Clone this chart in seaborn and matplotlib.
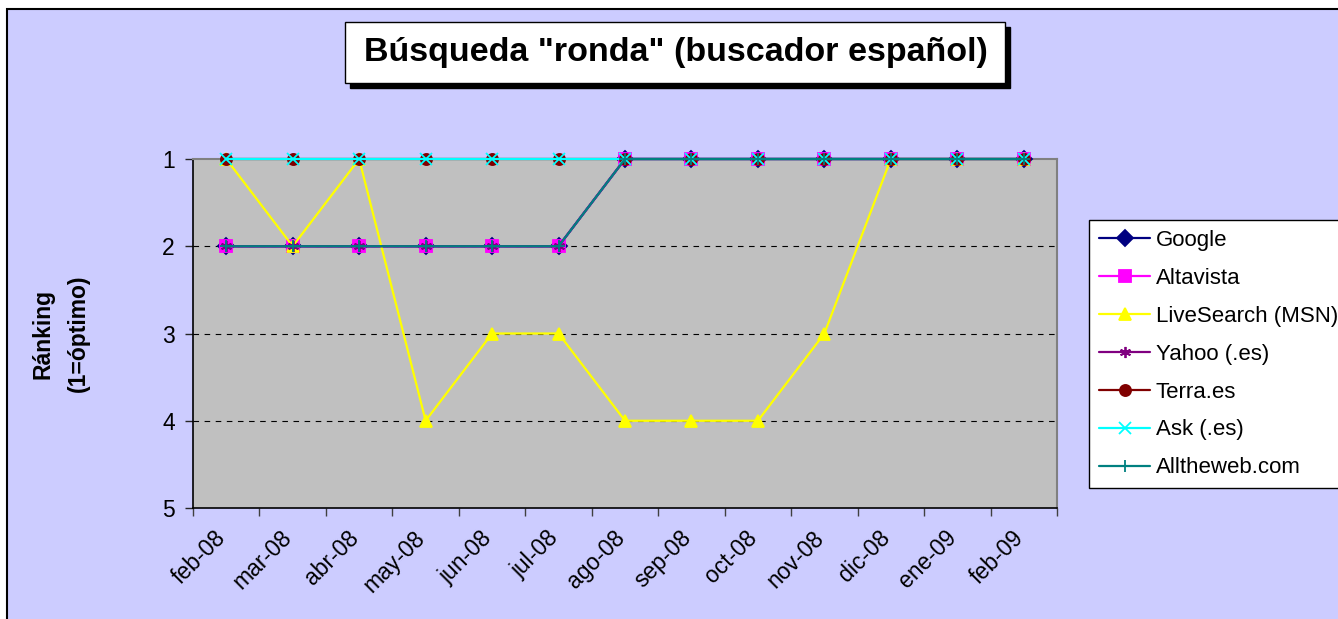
import matplotlib
matplotlib.use("Agg")
import numpy as np
import pandas as pd
import matplotlib.pyplot as plt
from matplotlib.patches import Rectangle
from matplotlib.colors import to_hex
from matplotlib.transforms import ScaledTranslation
import seaborn as sns

# Meses del eje x
meses = ["feb-08", "mar-08", "abr-08", "may-08", "jun-08", "jul-08", "ago-08",
         "sep-08", "oct-08", "nov-08", "dic-08", "ene-09", "feb-09"]

buscadores = ["Google", "Altavista", "LiveSearch (MSN)", "Yahoo (.es)",
              "Terra.es", "Ask (.es)", "Alltheweb.com"]

# Posicion en el ranking (1 = optimo)
google = [2, 2, 2, 2, 2, 2, 1, 1, 1, 1, 1, 1, 1]
altavista = [2, 2, 2, 2, 2, 2, 1, 1, 1, 1, 1, 1, 1]
livesearch = [1, 2, 1, 4, 3, 3, 4, 4, 4, 3, 1, 1, 1]
yahoo = [2, 2, 2, 2, 2, 2, 1, 1, 1, 1, 1, 1, 1]
terra = [1, 1, 1, 1, 1, 1, 1, 1, 1, 1, 1, 1, 1]
ask = [1, 1, 1, 1, 1, 1, 1, 1, 1, 1, 1, 1, 1]
alltheweb = [2, 2, 2, 2, 2, 2, 1, 1, 1, 1, 1, 1, 1]

colores = {"Google": "#000080", "Altavista": "#FF00FF", "LiveSearch (MSN)": "#FFFF00",
           "Yahoo (.es)": "#800080", "Terra.es": "#800000", "Ask (.es)": "#00FFFF",
           "Alltheweb.com": "#008080"}
marcadores = {"Google": "D", "Altavista": "s", "LiveSearch (MSN)": "^",
              "Yahoo (.es)": (6, 2, 0), "Terra.es": "o", "Ask (.es)": "x",
              "Alltheweb.com": "+"}

valores = [google, altavista, livesearch, yahoo, terra, ask, alltheweb]
filas = []
for nombre, serie in zip(buscadores, valores):
    for i, v in enumerate(serie):
        filas.append({"buscador": nombre, "pos": i, "mes": meses[i], "ranking": v})
df = pd.DataFrame(filas)

sns.set_theme(style="ticks")
plt.rcParams['font.family'] = ['Liberation Sans', 'DejaVu Sans']
plt.rcParams['text.color'] = 'black'
plt.rcParams['axes.labelcolor'] = 'black'
plt.rcParams['xtick.labelcolor'] = 'black'
plt.rcParams['ytick.labelcolor'] = 'black'

W, H = 1338, 619
fig = plt.figure(figsize=(W / 100, H / 100), dpi=100, facecolor="white")

# fondo lila del area del grafico
fig.add_artist(Rectangle((7 / W, -0.05), 1.1, 1 - 9 / H + 0.05, transform=fig.transFigure,
                         facecolor="#CCCCFF", edgecolor="black", linewidth=1.5, zorder=-5))

ax = fig.add_axes([193 / W, 1 - 508 / H, 864 / W, 349 / H])
ax.set_facecolor("#C0C0C0")

sns.lineplot(data=df, x="pos", y="ranking", hue="buscador",
             hue_order=buscadores, palette=colores, linewidth=1.6,
             estimator=None, sort=False, legend=False, ax=ax)

# marcadores estilo Excel (seaborn no deja mezclar rellenos y de linea)
por_color = {to_hex(c): n for n, c in colores.items()}
lineas = {}
for k, line in enumerate(ax.lines):
    c = line.get_color()
    nombre = por_color.get(to_hex(c))
    line.set_marker(marcadores[nombre])
    line.set_markersize(8)
    line.set_markeredgecolor(c)
    line.set_markerfacecolor(c)
    line.set_markeredgewidth(1.3)
    line.set_clip_on(False)
    line.set_zorder(3 + k * 0.01)
    lineas[nombre] = line

ax.set_xlim(-0.5, len(meses) - 0.5)
ax.set_ylim(5, 1)
ax.set_yticks([1, 2, 3, 4, 5])
ax.set_yticklabels(["1", "2", "3", "4", "5"])
ax.set_xticks(range(len(meses)))
ax.set_xticklabels(meses, rotation=45, ha="right", va="center", rotation_mode="anchor")
ax.set_xticks(np.arange(-0.5, len(meses)), minor=True)
ax.tick_params(axis="x", which="major", length=0, pad=19, labelsize=16.5)
ax.tick_params(axis="x", which="minor", length=6, width=1, color="#404040")
ax.tick_params(axis="y", length=6, width=1, labelsize=16.5, pad=7)
for lbl in ax.get_xticklabels():
    lbl.set_transform(lbl.get_transform() + ScaledTranslation(-4 / 100, 0, fig.dpi_scale_trans))

for y in [2, 3, 4]:
    ax.axhline(y, color="black", linewidth=0.8, linestyle=(0, (5, 5)), zorder=0.5)

ax.set_xlabel("")
ax.set_ylabel("Ránking\n(1=óptimo)", fontsize=16.5, fontweight="bold", linespacing=1.7)
ax.yaxis.set_label_coords((61 - 193) / 864, 0.5)
ax.yaxis.label.set_va("center")

for s in ["left", "bottom"]:
    ax.spines[s].set_color("black")
    ax.spines[s].set_linewidth(1.2)
for s in ["top", "right"]:
    ax.spines[s].set_color("#808080")
    ax.spines[s].set_linewidth(1.5)

leg = ax.legend([lineas[n] for n in buscadores], buscadores, loc="upper left",
                bbox_to_anchor=(1089 / W, 1 - 220 / H), bbox_transform=fig.transFigure,
                borderaxespad=0, fontsize=16, frameon=True, fancybox=False,
                edgecolor="black", facecolor="white", framealpha=1,
                labelspacing=0.76, handlelength=2.3, handletextpad=0.25,
                borderpad=0.45)
leg.get_frame().set_linewidth(1)

# titulo con caja y sombra
fig.add_artist(Rectangle((350 / W, 1 - 88 / H), 660 / W, 61 / H, transform=fig.transFigure,
                         facecolor="black", edgecolor="black", zorder=3))
fig.add_artist(Rectangle((345 / W, 1 - 83 / H), 660 / W, 61 / H, transform=fig.transFigure,
                         facecolor="white", edgecolor="black", linewidth=1, zorder=4))
fig.text(676 / W, 1 - 53 / H, 'Búsqueda "ronda" (buscador español)', ha="center",
         va="center", fontsize=24.5, fontweight="bold", zorder=5)

fig.savefig("out.png", dpi=100, facecolor="white")
